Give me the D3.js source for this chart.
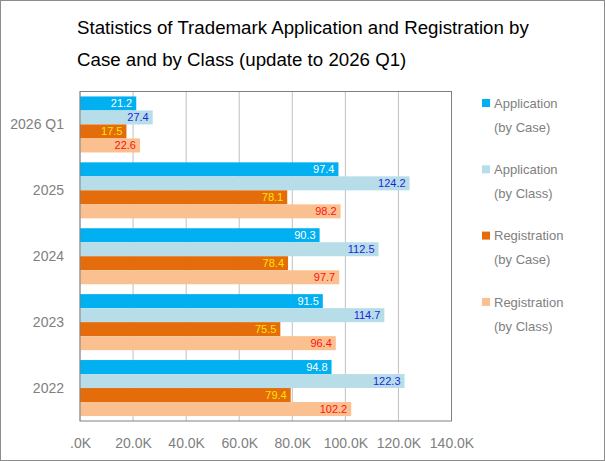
<!DOCTYPE html>
<html>
<head>
<meta charset="utf-8">
<script src="https://cdn.jsdelivr.net/npm/d3@7"></script>
<style>
  body { margin: 0; background: #fff; }
  svg { display: block; font-family: "Liberation Sans", Arial, sans-serif; }
</style>
</head>
<body>
<script>
// data (thousands)
const categories = ["2026 Q1", "2025", "2024", "2023", "2022"];
const seriesNames = ["Application (by Case)", "Application (by Class)", "Registration (by Case)", "Registration (by Class)"];
const appByCase = [21.2, 97.4, 90.3, 91.5, 94.8];
const appByClass = [27.4, 124.2, 112.5, 114.7, 122.3];
const regByCase = [17.5, 78.1, 78.4, 75.5, 79.4];
const regByClass = [22.6, 98.2, 97.7, 96.4, 102.2];
const tickValues = [0, 20, 40, 60, 80, 100, 120, 140];
const tickLabels = [".0K", "20.0K", "40.0K", "60.0K", "80.0K", "100.0K", "120.0K", "140.0K"];

const legendLines = [["Application", "(by Case)"], ["Application", "(by Class)"], ["Registration", "(by Case)"], ["Registration", "(by Class)"]];
const colors = ["#00b0f0", "#b7dee8", "#e46c0a", "#fac090"];
const labelColors = ["#ffffff", "#1f1fe0", "#ffe400", "#ff1010"];

const W = 605, H = 461;
const plot = { left: 80, right: 451.5, top: 91.5, bottom: 421 };

const seriesValues = [appByCase, appByClass, regByCase, regByClass];
const rows = [];
categories.forEach((c, i) => {
  seriesValues.forEach((vals, s) => rows.push({ cat: c, s: s, value: vals[i] }));
});

const svg = d3.select("body").append("svg").attr("width", W).attr("height", H);

// outer border
svg.append("rect")
  .attr("x", 0.5).attr("y", 0.5)
  .attr("width", W - 1).attr("height", H - 1)
  .attr("fill", "#fff").attr("stroke", "#8c8c8c");

// title
const title = svg.append("text").attr("fill", "#000").attr("font-size", 18.7);
title.append("tspan").attr("x", 77).attr("y", 34).text("Statistics of Trademark Application and Registration by");
title.append("tspan").attr("x", 77).attr("y", 66).text("Case and by Class (update to 2026 Q1)");

const x = d3.scaleLinear().domain([0, 140]).range([plot.left, plot.right]);
const y0 = d3.scaleBand().domain(categories).range([plot.top, plot.bottom])
  .paddingInner(0.15).paddingOuter(0.075);
const y1 = d3.scaleBand().domain(d3.range(4)).range([0, y0.bandwidth()]);

// gridlines
svg.append("g").selectAll("line").data(tickValues).join("line")
  .attr("x1", d => x(d)).attr("x2", d => x(d))
  .attr("y1", plot.top).attr("y2", plot.bottom)
  .attr("stroke", "#c0c0c0");

// bars
svg.append("g").selectAll("rect").data(rows).join("rect")
  .attr("x", x(0))
  .attr("y", d => y0(d.cat) + y1(d.s))
  .attr("width", d => x(d.value) - x(0))
  .attr("height", y1.bandwidth())
  .attr("fill", d => colors[d.s]);

// value labels
svg.append("g").selectAll("text").data(rows).join("text")
  .attr("x", d => x(d.value) - 4)
  .attr("y", d => y0(d.cat) + y1(d.s) + y1.bandwidth() / 2)
  .attr("dy", "0.36em")
  .attr("text-anchor", "end")
  .attr("font-size", 11)
  .attr("fill", d => labelColors[d.s])
  .text(d => d.value.toFixed(1));

// plot frame
svg.append("rect")
  .attr("x", plot.left).attr("y", plot.top)
  .attr("width", plot.right - plot.left).attr("height", plot.bottom - plot.top)
  .attr("fill", "none").attr("stroke", "#808080");

// x axis
const xAxis = svg.append("g")
  .attr("transform", `translate(0,${plot.bottom})`)
  .call(d3.axisBottom(x).tickValues(tickValues)
    .tickFormat((d, i) => tickLabels[i]).tickSize(0).tickPadding(17));
xAxis.select(".domain").remove();
xAxis.selectAll("text").attr("font-size", 14).attr("fill", "#808080")
  .attr("font-family", "Liberation Sans, Arial, sans-serif");

// y labels
svg.append("g").selectAll("text").data(categories).join("text")
  .attr("x", 64)
  .attr("y", d => y0(d) + y0.bandwidth() / 2)
  .attr("dy", "0.36em")
  .attr("text-anchor", "end")
  .attr("font-size", 14)
  .attr("fill", "#808080")
  .text(d => d);

// legend
const legend = svg.append("g").selectAll("g").data(seriesNames).join("g")
  .attr("transform", (d, i) => `translate(482,${103 + i * 66.3})`);
legend.append("rect")
  .attr("x", 0).attr("y", -4).attr("width", 8).attr("height", 8)
  .attr("fill", (d, i) => colors[i]);
legend.append("text")
  .attr("x", 12).attr("y", 0).attr("dy", "0.36em")
  .attr("font-size", 13).attr("fill", "#808080")
  .text((d, i) => legendLines[i][0]);
legend.append("text")
  .attr("x", 12).attr("y", 24).attr("dy", "0.36em")
  .attr("font-size", 13).attr("fill", "#808080")
  .text((d, i) => legendLines[i][1]);
</script>
</body>
</html>
